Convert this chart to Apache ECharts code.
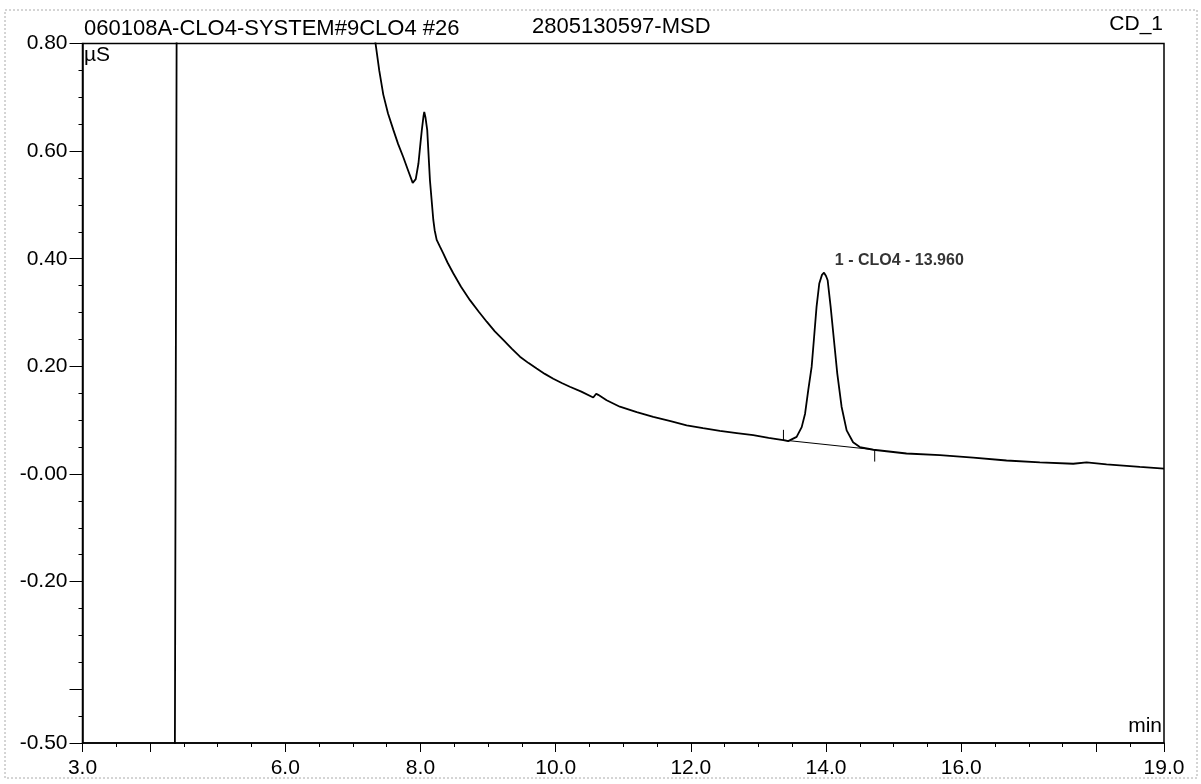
<!DOCTYPE html>
<html>
<head>
<meta charset="utf-8">
<script src="https://cdn.jsdelivr.net/npm/echarts@6/dist/echarts.min.js"></script>
<style>
  html, body { margin: 0; padding: 0; background: #fff; }
  #chart { width: 1201px; height: 784px; }
</style>
</head>
<body>
<div id="chart"></div>
<script>
// ---- Data ----
const timeMin = [3.00, 4.365, 4.40, 7.20, 7.28, 7.33, 7.39, 7.45, 7.52, 7.60, 7.67, 7.745, 7.82, 7.885, 7.93, 7.97, 8.00, 8.02, 8.045, 8.056, 8.075, 8.10, 8.14, 8.19, 8.21, 8.24, 8.29, 8.337, 8.40, 8.485, 8.60, 8.732, 8.86, 8.98, 9.10, 9.225, 9.35, 9.472, 9.60, 9.719, 9.84, 9.965, 10.09, 10.21, 10.38, 10.556, 10.60, 10.63, 10.754, 10.95, 11.20, 11.444, 11.70, 11.938, 12.18, 12.43, 12.68, 12.923, 13.15, 13.367, 13.44, 13.466, 13.565, 13.64, 13.69, 13.737, 13.787, 13.82, 13.86, 13.90, 13.94, 13.97, 14.00, 14.024, 14.068, 14.117, 14.166, 14.23, 14.305, 14.40, 14.50, 14.70, 15.19, 15.685, 16.177, 16.67, 17.164, 17.657, 17.855, 18.15, 18.643, 19.00];
const signalUS = [-0.60, -0.60, 1.20, 1.20, 0.88, 0.805, 0.75, 0.705, 0.670, 0.639, 0.613, 0.589, 0.563, 0.541, 0.548, 0.577, 0.615, 0.639, 0.665, 0.673, 0.662, 0.639, 0.546, 0.472, 0.453, 0.435, 0.422, 0.410, 0.393, 0.373, 0.348, 0.323, 0.302, 0.283, 0.265, 0.249, 0.233, 0.218, 0.206, 0.196, 0.186, 0.177, 0.169, 0.162, 0.153, 0.142, 0.149, 0.147, 0.137, 0.125, 0.115, 0.106, 0.098, 0.0905, 0.085, 0.080, 0.076, 0.072, 0.067, 0.063, 0.061, 0.061, 0.069, 0.087, 0.112, 0.156, 0.199, 0.249, 0.311, 0.354, 0.370, 0.374, 0.368, 0.360, 0.311, 0.249, 0.187, 0.125, 0.081, 0.059, 0.050, 0.045, 0.038, 0.035, 0.0305, 0.025, 0.0217, 0.019, 0.0217, 0.018, 0.013, 0.010];

// integration baseline of peak 1 (start, end) and its delimiter marks
const baselineTime = [13.37, 14.72];
const baselineValue = [0.063, 0.045];
const startMarkValue = [0.063, 0.082];
const endMarkValue = [0.045, 0.023];

// peak annotation
const peakTime = 13.96;
const peakValue = 0.374;
const peakText = '1 - CLO4 - 13.960';

// axis ticks / labels
const xLabelValues = [3, 6, 8, 10, 12, 14, 16, 19];
const xMajorTicks = [3, 4, 6, 8, 10, 12, 14, 16, 18, 19];
const yLabelValues = [-0.5, -0.2, 0, 0.2, 0.4, 0.6, 0.8];
const yLabelTexts = ['-0.50', '-0.20', '-0.00', '0.20', '0.40', '0.60', '0.80'];
const yMajorTicks = [-0.5, -0.4, -0.2, 0, 0.2, 0.4, 0.6, 0.8];

// header texts
const headerLeft = '060108A-CLO4-SYSTEM#9CLO4 #26';
const headerMid = '2805130597-MSD';
const headerRight = 'CD_1';
const yUnit = 'µS';
const xUnit = 'min';

// ---- Chart ----
const font = '"Liberation Sans", Arial, sans-serif';
const ink = '#000';
const trace = timeMin.map((t, i) => [t, signalUS[i]]);
const baseline = baselineTime.map((t, i) => [t, baselineValue[i]]);
const startMark = startMarkValue.map(v => [baselineTime[0], v]);
const endMark = endMarkValue.map(v => [baselineTime[1], v]);

const chart = echarts.init(document.getElementById('chart'), null, { renderer: 'canvas' });

const commonX = { type: 'value', min: 3, max: 19, splitLine: { show: false } };
const commonY = { type: 'value', min: -0.5, max: 0.8, splitLine: { show: false } };

chart.setOption({
  animation: false,
  backgroundColor: '#fff',
  grid: {
    left: 82.5, right: 37, top: 43.5, bottom: 41,
    show: true, borderColor: ink, borderWidth: 1.5, backgroundColor: 'transparent'
  },
  xAxis: [
    Object.assign({}, commonX, {
      interval: 0.5,
      axisLine: { show: true, onZero: false, lineStyle: { color: ink, width: 1.5 } },
      axisTick: { show: true, length: 4, lineStyle: { color: ink, width: 1 } },
      axisLabel: {
        show: true, customValues: xLabelValues, margin: 15,
        color: ink, fontFamily: font, fontSize: 21,
        formatter: v => v.toFixed(1)
      }
    }),
    Object.assign({}, commonX, {
      position: 'bottom',
      axisLine: { show: false, onZero: false },
      axisTick: { show: true, customValues: xMajorTicks, length: 9, lineStyle: { color: ink, width: 1 } },
      axisLabel: { show: false }
    })
  ],
  yAxis: [
    Object.assign({}, commonY, {
      interval: 0.05,
      axisLine: { show: true, onZero: false, lineStyle: { color: ink, width: 1.5 } },
      axisTick: { show: true, length: 4, lineStyle: { color: ink, width: 1 } },
      axisLabel: {
        show: true, customValues: yLabelValues, margin: 15,
        color: ink, fontFamily: font, fontSize: 21,
        formatter: v => {
          const i = yLabelValues.findIndex(x => Math.abs(x - v) < 1e-6);
          return i >= 0 ? yLabelTexts[i] : '';
        }
      }
    }),
    Object.assign({}, commonY, {
      position: 'left',
      axisLine: { show: false, onZero: false },
      axisTick: { show: true, customValues: yMajorTicks, length: 13, lineStyle: { color: ink, width: 1 } },
      axisLabel: { show: false }
    })
  ],
  series: [
    {
      type: 'line', data: trace, showSymbol: false, clip: true,
      lineStyle: { color: ink, width: 1.8 }, silent: true
    },
    {
      type: 'line', data: baseline, showSymbol: false, clip: true,
      lineStyle: { color: ink, width: 1 }, silent: true
    },
    {
      type: 'line', data: startMark, showSymbol: false,
      lineStyle: { color: ink, width: 1 }, silent: true
    },
    {
      type: 'line', data: endMark, showSymbol: false,
      lineStyle: { color: ink, width: 1 }, silent: true
    },
    {
      type: 'scatter', data: [[peakTime, peakValue]], symbolSize: 0.1, silent: true,
      itemStyle: { color: 'transparent' },
      label: {
        show: true, position: 'top', distance: 4, offset: [76, 0],
        formatter: peakText, color: ink, fontFamily: font, fontSize: 16, fontWeight: 'bold'
      }
    }
  ],
  graphic: [
    { type: 'rect', shape: { x: 5, y: 10, width: 1192, height: 768 },
      style: { fill: 'none', stroke: '#aaa', lineWidth: 1, lineDash: [2, 2] }, silent: true },
    { type: 'text', left: 84, top: 18, style: { text: headerLeft, font: '22px ' + font, fill: ink } },
    { type: 'text', left: 532, top: 16, style: { text: headerMid, font: '22px ' + font, fill: ink } },
    { type: 'text', right: 38, top: 14, style: { text: headerRight, font: '21px ' + font, fill: ink } },
    { type: 'text', left: 84, top: 45, style: { text: yUnit, font: '21px ' + font, fill: ink } },
    { type: 'text', right: 39, top: 716, style: { text: xUnit, font: '21px ' + font, fill: ink } }
  ]
});
</script>
</body>
</html>
